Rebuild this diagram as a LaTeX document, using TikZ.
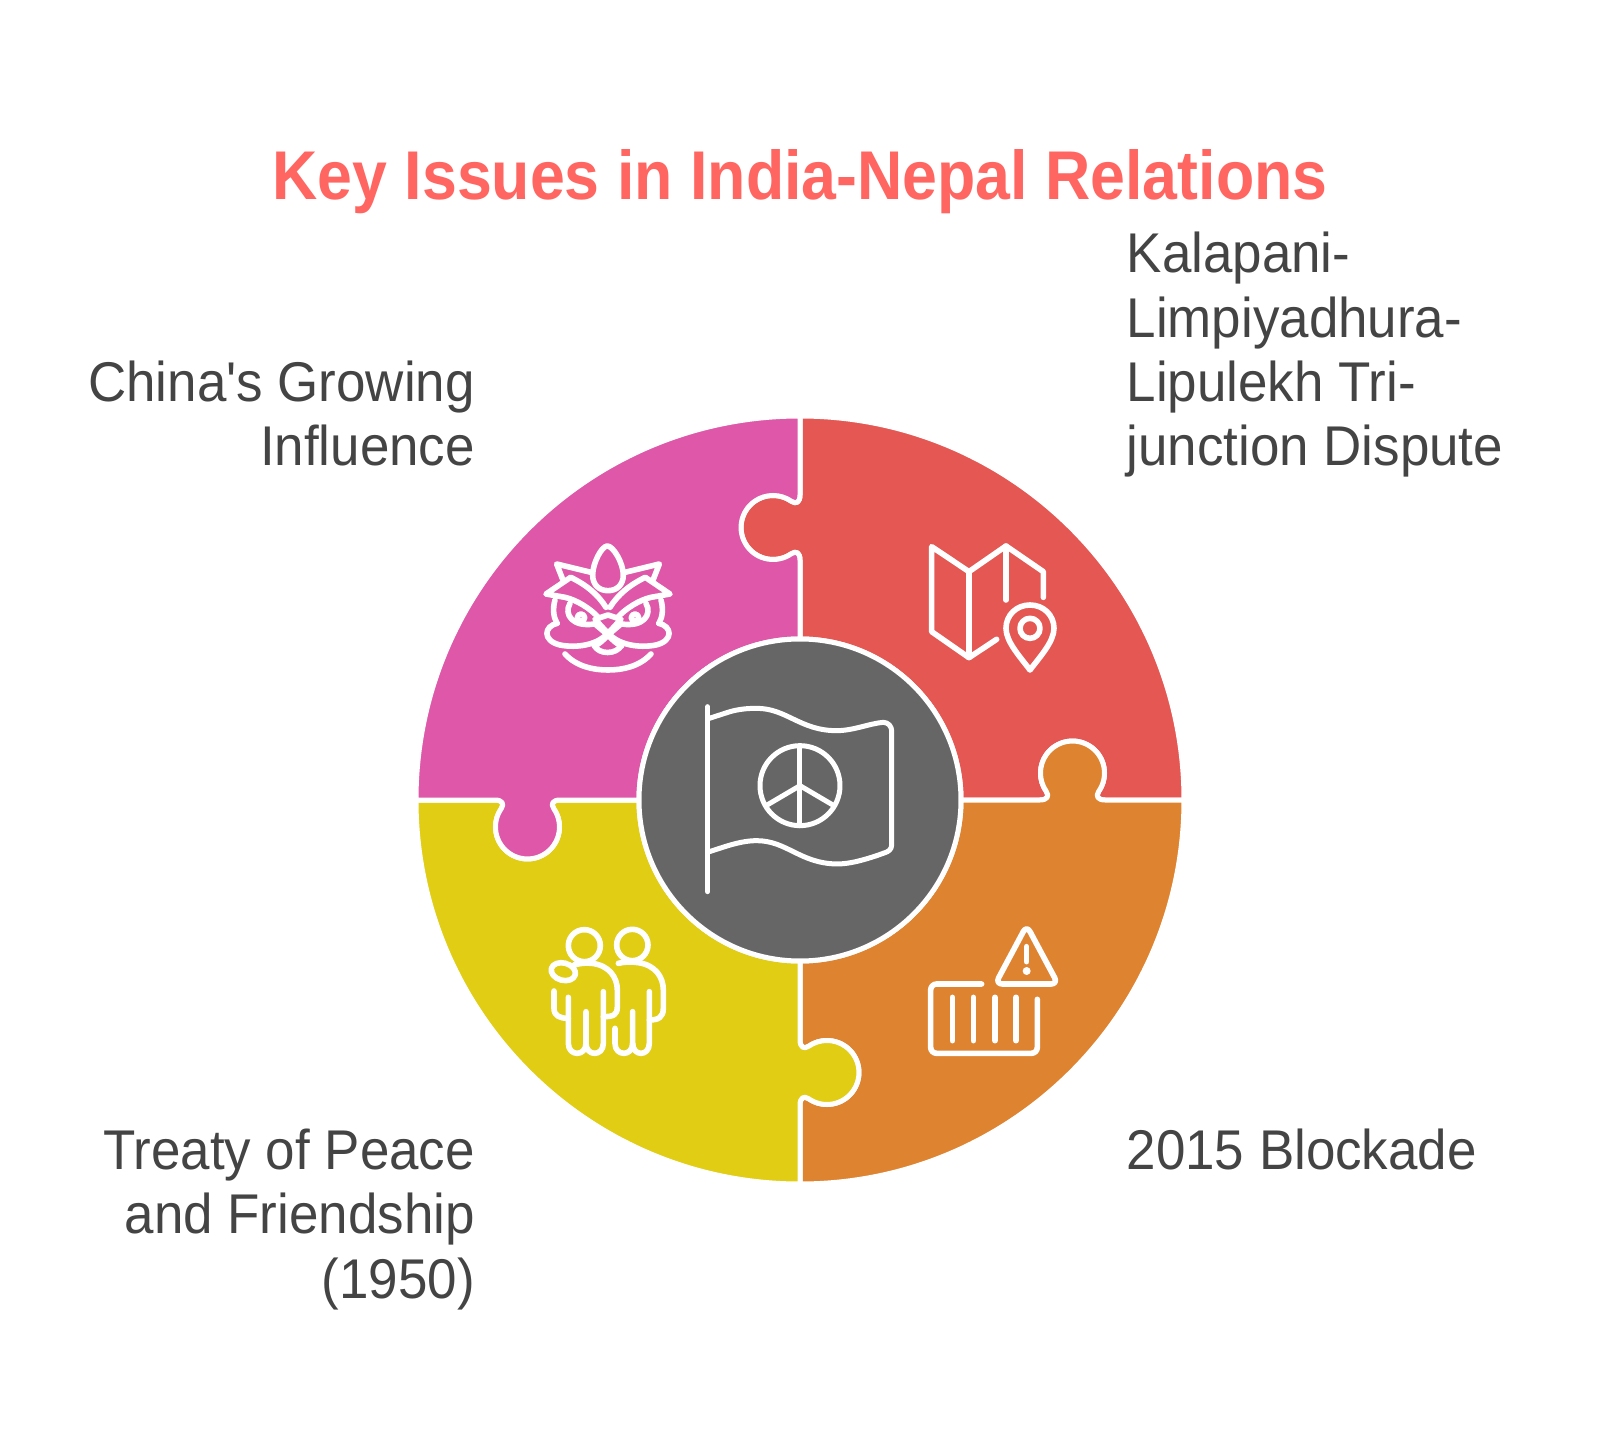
\documentclass[tikz,border=0pt]{standalone}
\usepackage{fontspec}
\newfontfamily\labelfont[FakeStretch=0.945]{Liberation Sans}
\newfontfamily\titlefont[FakeStretch=0.908]{Liberation Sans}
\definecolor{cred}{RGB}{229,87,83}
\definecolor{cpink}{RGB}{222,87,168}
\definecolor{cyellow}{RGB}{224,205,20}
\definecolor{corange}{RGB}{222,131,48}
\definecolor{cgrey}{RGB}{102,102,102}
\definecolor{ctitle}{RGB}{255,102,97}
\definecolor{ctext}{RGB}{68,68,68}
\tikzset{
  x=1pt,y=1pt,
  piece/.style={draw=white,line width=5pt,line join=round},
  icon/.style={draw=white,line width=5.6pt,line cap=round,line join=round},
  label/.style={text=ctext,inner sep=0pt,font=\fontsize{56}{64}\labelfont},
  zoomed/.style args={#1/#2}{xshift=#1pt-800pt,yshift=800pt-#2pt,xscale=1/3,yscale=-1/3},
}
\newcommand{\piecepath}{
  (0,384) -- (0,305) .. controls (0,298) and (-3.7,295.3) .. (-8.6,298.7)
  arc[start angle=55,end angle=305,radius=32]
  .. controls (-3.7,249.7) and (0,247) .. (0,240) -- (0,161)
  arc[start angle=90,end angle=0,radius=161]
  -- (240,0) .. controls (247,0) and (249.7,3.7) .. (246.3,8.6)
  arc[start angle=215,end angle=-35,radius=32]
  .. controls (295.3,3.7) and (298,0) .. (305,0) -- (384,0)
  arc[start angle=0,end angle=90,radius=384] -- cycle
}
\newcommand{\lionhalf}{
  \draw[icon] (217,158) -- (110,132) -- (128,178);
  \draw[icon] (258,262) .. controls (235,225) and (200,195) .. (152,172) -- (78,222) -- (135,232)
     .. controls (170,240) and (210,265) .. (235,292);
  \draw[icon] (105,240) .. controls (98,265) and (100,290) .. (110,308);
  \draw[icon] (150,250) .. controls (130,285) and (160,322) .. (222,312);
  \draw[icon] (183,293) circle[radius=11];
  \draw[icon] (112,310) .. controls (72,318) and (66,362) .. (120,375)
     .. controls (170,385) and (235,375) .. (264,338);
  \draw[icon] (225,312) -- (264,345) .. controls (278,360) and (290,372) .. (305,378);
  \draw[icon] (135,402) .. controls (170,440) and (220,450) .. (264,450);
}
\begin{document}
\begin{tikzpicture}
\useasboundingbox (-800,-640) rectangle (800,800);
\fill[white] (-800,-640) rectangle (800,800);
% puzzle pieces
\foreach \r/\c in {0/cred,-90/corange,-180/cyellow,-270/cpink}{
  \begin{scope}[rotate=\r]
    \path[piece,fill=\c] \piecepath;
  \end{scope}
}
\path[draw=white,line width=5pt,fill=cgrey] (0,0) circle[radius=161];
% lion icon
\begin{scope}[zoomed=520/520]
  \draw[icon] (262,78) .. controls (280,78) and (310,130) .. (310,165)
     .. controls (310,195) and (290,212) .. (264,212)
     .. controls (238,212) and (218,195) .. (218,165)
     .. controls (218,130) and (245,78) .. (262,78) -- cycle;
  \draw[icon] (225,298) -- (264,285) -- (303,298) -- (264,340) -- cycle;
  \draw[icon] (222,375) .. controls (235,405) and (290,405) .. (305,375);
  \lionhalf
  \begin{scope}[shift={(528,0)},xscale=-1]
    \lionhalf
  \end{scope}
\end{scope}
% map icon
\begin{scope}[zoomed=900/520]
  \draw[icon] (290,358) -- (207,413) -- (95,335) -- (95,80) -- (207,155) -- (318,78) -- (430,155) -- (430,232);
  \draw[icon] (207,155) -- (207,413);
  \draw[icon] (318,78) -- (318,240);
  \draw[icon] (390,450) .. controls (360,410) and (318,365) .. (318,325)
     .. controls (318,285) and (350,255) .. (390,255)
     .. controls (430,255) and (462,285) .. (462,325)
     .. controls (462,365) and (420,410) .. (390,450) -- cycle;
  \draw[icon] (390,325) circle[radius=30];
\end{scope}
% people icon
\begin{scope}[zoomed=530/910]
  \draw[icon] (163,107) circle[radius=48];
  \draw[icon] (307,105) circle[radius=47];
  \draw[icon] (265,160) .. controls (285,155) and (305,155) .. (325,158)
     .. controls (375,165) and (400,200) .. (400,240) -- (400,295)
     .. controls (400,322) and (385,330) .. (358,330);
  \draw[icon] (358,245) -- (358,400) .. controls (358,440) and (308,440) .. (308,400) -- (308,305);
  \draw[icon] (308,400) .. controls (308,440) and (255,440) .. (255,400) -- (255,355);
  \draw[icon,rotate around={15:(100,185)}] (100,185) ellipse[x radius=37,y radius=26];
  \draw[icon] (132,165) .. controls (150,160) and (165,158) .. (185,160)
     .. controls (235,165) and (262,200) .. (262,240) -- (262,290)
     .. controls (262,315) and (250,320) .. (220,320);
  \draw[icon] (72,243) -- (72,295) .. controls (72,318) and (90,325) .. (115,325);
  \draw[icon] (115,262) -- (115,400) .. controls (115,440) and (168,440) .. (168,400) -- (168,305);
  \draw[icon] (168,400) .. controls (168,440) and (220,440) .. (220,400) -- (220,245);
\end{scope}
% container icon
\begin{scope}[zoomed=910/910]
  \draw[icon,rounded corners=6pt] (215,222) -- (62,222) -- (62,430) -- (382,430) -- (382,268);
  \foreach \bx in {127,190,255,318}{ \draw[icon] (\bx,262) -- (\bx,392); }
  \draw[icon,rounded corners=7pt] (350,46) -- (444,222) -- (256,222) -- cycle;
  \draw[icon] (350,110) -- (350,155);
  \fill[white] (350,183) circle[radius=12];
\end{scope}
% flag icon
\begin{scope}[zoomed=680/690]
  \tikzset{icon/.append style={line width=5pt}}
  \draw[icon] (83,50) -- (83,605);
  \draw[icon] (88,85) -- (150,65) .. controls (175,58) and (200,55) .. (230,55)
     .. controls (320,55) and (360,122) .. (470,122)
     .. controls (520,122) and (570,100) .. (610,97)
     .. controls (625,97) and (635,110) .. (635,122) -- (635,465)
     .. controls (635,478) and (625,485) .. (615,488) -- (590,497)
     .. controls (550,510) and (510,522) .. (470,522)
     .. controls (360,520) and (320,452) .. (230,452)
     .. controls (180,452) and (130,472) .. (88,485);
  \draw[icon] (360,287) circle[radius=120];
  \draw[icon] (360,167) -- (360,407);
  \draw[icon] (360,287) -- (258,347);
  \draw[icon] (360,287) -- (462,347);
\end{scope}
% texts
\node[anchor=base,inner sep=0pt,text=ctitle,font=\fontsize{69}{74}\titlefont\bfseries] (title) at (0,600) {Key Issues in India-Nepal Relations};
\node[label,anchor=base west] (kala1) at (326.5,527) {Kalapani-};
\node[label,anchor=base west] (kala2) at (326.5,462) {Limpiyadhura-};
\node[label,anchor=base west] (kala3) at (326.5,398) {Lipulekh Tri-};
\node[label,anchor=base west] (kala4) at (326.5,334) {junction Dispute};
\node[label,anchor=base east] (china1) at (-325,398) {China's Growing};
\node[label,anchor=base east] (china2) at (-325,334) {Influence};
\node[label,anchor=base east] (treaty1) at (-325,-369) {Treaty of Peace};
\node[label,anchor=base east] (treaty2) at (-325,-433) {and Friendship};
\node[label,anchor=base east] (treaty3) at (-325,-498) {(1950)};
\node[label,anchor=base west] (block) at (326.5,-369) {2015 Blockade};
\end{tikzpicture}
\end{document}
